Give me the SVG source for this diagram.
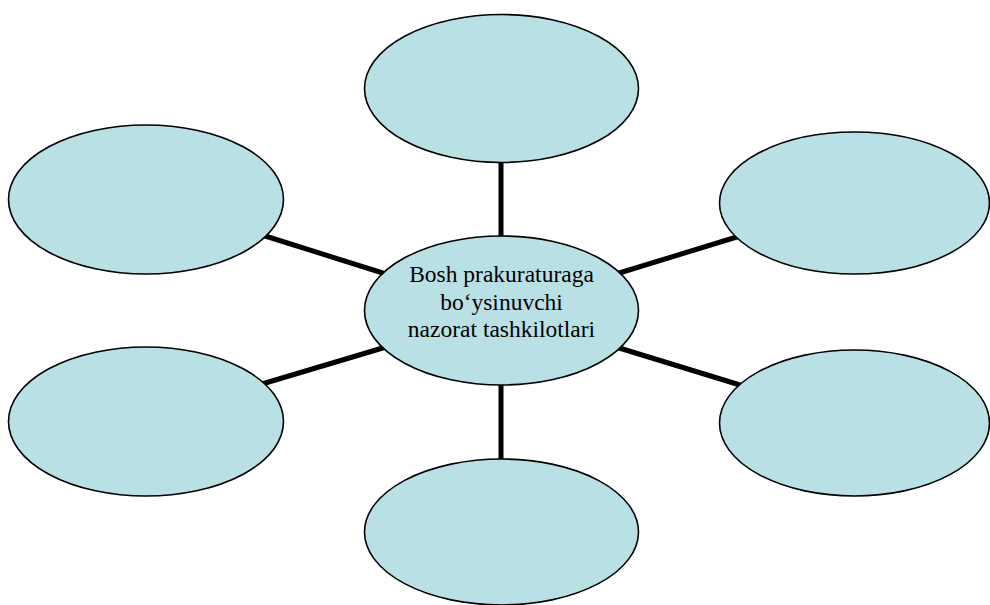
<svg xmlns="http://www.w3.org/2000/svg" width="990" height="605" viewBox="0 0 990 605">
<style>
.n{fill:#b9e0e4;stroke:#000;stroke-width:1.6}
.c{stroke:#000;stroke-width:5;fill:none}
.t{font-family:"Liberation Serif","Times New Roman",serif;font-size:23.5px;fill:#000;text-anchor:middle}
</style>
<rect width="990" height="605" fill="#fff"/>
<g id="connectors">
<line class="c" x1="501" y1="160" x2="501" y2="238"/>
<line class="c" x1="501" y1="383" x2="501" y2="461"/>
<line class="c" x1="262" y1="235" x2="386" y2="274"/>
<line class="c" x1="262" y1="384" x2="386" y2="347"/>
<line class="c" x1="616" y1="274" x2="740" y2="236"/>
<line class="c" x1="616" y1="347" x2="740" y2="385"/>
</g>
<g id="n-top"><ellipse class="n" cx="501.5" cy="88.5" rx="137" ry="74"/></g>
<g id="n-left-top"><ellipse class="n" cx="146" cy="199.5" rx="137.5" ry="74.5"/></g>
<g id="n-right-top"><ellipse class="n" cx="854.5" cy="203" rx="135" ry="71"/></g>
<g id="n-left-bottom"><ellipse class="n" cx="146" cy="421.5" rx="137.5" ry="74.5"/></g>
<g id="n-right-bottom"><ellipse class="n" cx="854.5" cy="423" rx="135" ry="73"/></g>
<g id="n-bottom"><ellipse class="n" cx="501.5" cy="532" rx="137" ry="73"/></g>
<g id="n-center">
<ellipse class="n" cx="501.5" cy="310.5" rx="137" ry="74.5"/>
<text class="t" x="501.5" y="282">Bosh prakuraturaga</text>
<text class="t" x="501.5" y="309.5">bo‘ysinuvchi</text>
<text class="t" x="501.5" y="337">nazorat tashkilotlari</text>
</g>
</svg>
